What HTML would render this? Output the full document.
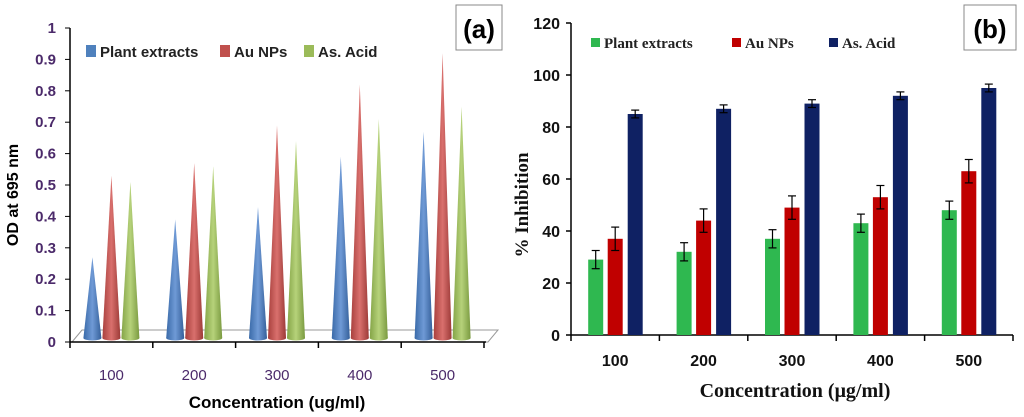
<!DOCTYPE html>
<html><head><meta charset="utf-8"><style>
html,body{margin:0;padding:0;background:#fff;}
svg{display:block;}
</style></head><body>
<svg width="1024" height="417" viewBox="0 0 1024 417" xmlns="http://www.w3.org/2000/svg">
<defs>
<linearGradient id="gb" x1="0" x2="1"><stop offset="0" stop-color="#3a6aa8"/><stop offset="0.5" stop-color="#6f9ad6"/><stop offset="1" stop-color="#35609a"/></linearGradient>
<linearGradient id="gr" x1="0" x2="1"><stop offset="0" stop-color="#a8403d"/><stop offset="0.5" stop-color="#d9706d"/><stop offset="1" stop-color="#9c3a37"/></linearGradient>
<linearGradient id="gg" x1="0" x2="1"><stop offset="0" stop-color="#84a447"/><stop offset="0.5" stop-color="#b6d27a"/><stop offset="1" stop-color="#7a9a40"/></linearGradient>
</defs>
<g id="pa"></g>
<g id="pb"></g>
</svg>
<script>
const NS="http://www.w3.org/2000/svg";
const categories=["100","200","300","400","500"];
const odPlant=[0.27,0.39,0.43,0.59,0.67];
const odAu=[0.53,0.57,0.69,0.82,0.92];
const odAcid=[0.51,0.56,0.64,0.71,0.75];
const odTicks=["0","0.1","0.2","0.3","0.4","0.5","0.6","0.7","0.8","0.9","1"];
const inhPlant=[29,32,37,43,48];
const inhAu=[37,44,49,53,63];
const inhAcid=[85,87,89,92,95];
const errPlant=[3.5,3.5,3.5,3.5,3.5];
const errAu=[4.5,4.5,4.5,4.5,4.5];
const errAcid=[1.5,1.5,1.5,1.5,1.5];
const inhTicks=[0,20,40,60,80,100,120];

function mk(p,tag,attrs,txt){const e=document.createElementNS(NS,tag);for(const k in attrs)e.setAttribute(k,attrs[k]);if(txt!==undefined)e.textContent=txt;p.appendChild(e);return e;}

// Panel A
const A=document.getElementById('pa');
const ay=v=>342-v*314;
const ax0=70,agw=82.8;
const ax=i=>ax0+agw*(i+0.5);
let f=mk(A,'polygon',{points:"72,342 82,330 498,330 488,342",fill:"#fff",stroke:"#999","stroke-width":1});

let l=mk(A,'line',{x1:70,y1:28,x2:70,y2:342,stroke:"#000","stroke-width":1.5});

l=mk(A,'line',{x1:70,y1:342,x2:486,y2:342,stroke:"#000","stroke-width":1.5});

odTicks.forEach((t,i)=>{const v=parseFloat(t);const y=ay(v);
 mk(A,'line',{x1:65,y1:y,x2:70,y2:y,stroke:"#000","stroke-width":1});
 const tx=mk(A,'text',{x:56,y:y+5,"text-anchor":"end","font-family":"Liberation Sans, sans-serif","font-size":15,"font-weight":"600",fill:"#4b2a6a"},t);
 });
for(let i=0;i<=5;i++){const x=ax0+agw*i;mk(A,'line',{x1:x,y1:342,x2:x,y2:348,stroke:"#000","stroke-width":1.5});}
categories.forEach((c,i)=>{const t=mk(A,'text',{x:ax(i),y:380,"text-anchor":"middle","font-family":"Liberation Sans, sans-serif","font-size":15,fill:"#4b2a6a"},c);
 });
function cone(cx,v,g,name){const w=9,by=338;
 const p=mk(A,'polygon',{points:`${cx-w},${by} ${cx},${ay(v)} ${cx+w},${by}`,fill:`url(#${g})`});
 
 mk(A,'ellipse',{cx:cx,cy:by,rx:w,ry:2.5,fill:`url(#${g})`});}
categories.forEach((c,i)=>{const cx=ax(i);
 cone(cx-19,odPlant[i],'gb','cone-plant-'+c);cone(cx,odAu[i],'gr','cone-au-'+c);cone(cx+19,odAcid[i],'gg','cone-acid-'+c);});
let t=mk(A,'text',{x:0,y:0,transform:"translate(18,195) rotate(-90)","text-anchor":"middle","font-family":"Liberation Sans, sans-serif","font-size":16,"font-weight":"bold",fill:"#000"},"OD at 695 nm");

t=mk(A,'text',{x:277,y:408,"text-anchor":"middle","font-family":"Liberation Sans, sans-serif","font-size":17,"font-weight":"bold",fill:"#000"},"Concentration (ug/ml)");

[["#4f81bd","Plant extracts",86],["#c0504d","Au NPs",220],["#9bbb59","As. Acid",304]].forEach(([c,n,x])=>{
 const g=mk(A,'g',{});
 mk(g,'rect',{x:x,y:45,width:10,height:12,fill:c});
 mk(g,'text',{x:x+14,y:57,"font-family":"Liberation Sans, sans-serif","font-size":15,"font-weight":"bold",fill:"#222"},n);});
let b=mk(A,'rect',{x:456,y:5,width:46,height:45,fill:"#fff",stroke:"#888","stroke-width":1});

t=mk(A,'text',{x:479,y:38,"text-anchor":"middle","font-family":"Liberation Sans, sans-serif","font-size":26,"font-weight":"bold",fill:"#000"},"(a)");


// Panel B
const B=document.getElementById('pb');
const by=v=>335-v*2.6;
const bx0=571,bgw=88.4;
const bx=i=>bx0+bgw*(i+0.5);
l=mk(B,'line',{x1:571,y1:23,x2:571,y2:335,stroke:"#000","stroke-width":1.5});

l=mk(B,'line',{x1:571,y1:335,x2:1013,y2:335,stroke:"#000","stroke-width":1.5});

inhTicks.forEach(v=>{const y=by(v);mk(B,'line',{x1:566,y1:y,x2:571,y2:y,stroke:"#000","stroke-width":1.5});
 const tx=mk(B,'text',{x:560,y:y+6,"text-anchor":"end","font-family":"Liberation Sans, sans-serif","font-size":16,"font-weight":"bold",fill:"#111"},String(v));
 });
for(let i=0;i<=5;i++){const x=bx0+bgw*i;mk(B,'line',{x1:x,y1:335,x2:x,y2:341,stroke:"#000","stroke-width":1.5});}
categories.forEach((c,i)=>{const tx=mk(B,'text',{x:bx(i),y:366,"text-anchor":"middle","font-family":"Liberation Sans, sans-serif","font-size":16,"font-weight":"bold",fill:"#111"},c);
 });
function bar(cx,v,e,col,name){const w=15;
 const r=mk(B,'rect',{x:cx-w/2,y:by(v),width:w,height:by(0)-by(v),fill:col});
 
 const g=mk(B,'g',{stroke:"#000","stroke-width":1.2});
 mk(g,'line',{x1:cx,y1:by(v+e),x2:cx,y2:by(v-e)});
 mk(g,'line',{x1:cx-4,y1:by(v+e),x2:cx+4,y2:by(v+e)});
 mk(g,'line',{x1:cx-4,y1:by(v-e),x2:cx+4,y2:by(v-e)});}
categories.forEach((c,i)=>{const cx=bx(i);
 bar(cx-19.5,inhPlant[i],errPlant[i],"#2fb850",'bar-plant-'+c);
 bar(cx,inhAu[i],errAu[i],"#c00000",'bar-au-'+c);
 bar(cx+20,inhAcid[i],errAcid[i],"#0f2163",'bar-acid-'+c);});
t=mk(B,'text',{x:0,y:0,transform:"translate(528,205) rotate(-90)","text-anchor":"middle","font-family":"Liberation Serif, serif","font-size":19,"font-weight":"bold",fill:"#111"},"% Inhibition");

t=mk(B,'text',{x:795,y:397,"text-anchor":"middle","font-family":"Liberation Serif, serif","font-size":20,"font-weight":"bold",fill:"#111"},"Concentration (μg/ml)");

[["#2fb850","Plant extracts",591],["#c00000","Au NPs",732],["#0f2163","As. Acid",829]].forEach(([c,n,x])=>{
 const g=mk(B,'g',{});
 mk(g,'rect',{x:x,y:38,width:9,height:9,fill:c});
 mk(g,'text',{x:x+13,y:48,"font-family":"Liberation Serif, serif","font-size":15,"font-weight":"bold",fill:"#222"},n);});
b=mk(B,'rect',{x:964,y:5,width:52,height:45,fill:"#fff",stroke:"#888","stroke-width":1});

t=mk(B,'text',{x:990,y:38,"text-anchor":"middle","font-family":"Liberation Sans, sans-serif","font-size":26,"font-weight":"bold",fill:"#000"},"(b)");

</script>
</body></html>
